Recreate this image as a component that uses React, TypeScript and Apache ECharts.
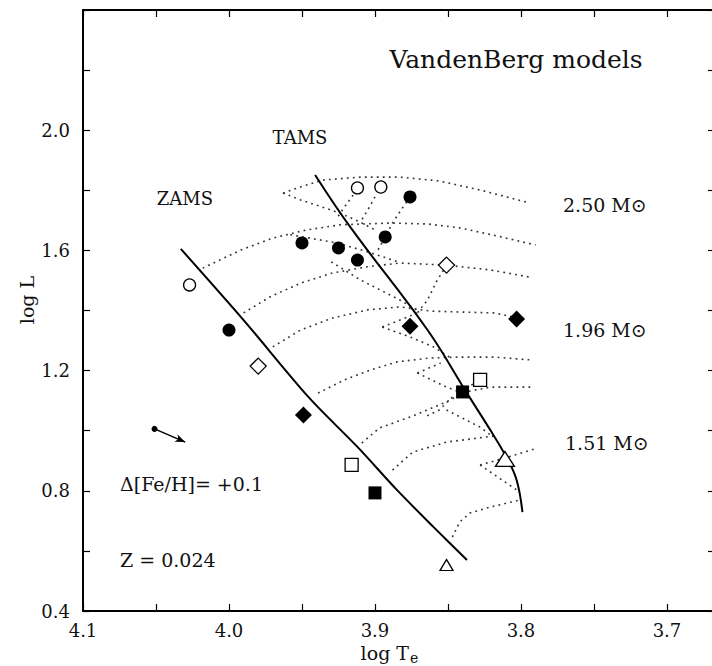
import React, { useEffect, useRef } from "react";
import * as echarts from "echarts";

// Axis ticks / labels
const xTickValues = [4.1, 4.05, 4.0, 3.95, 3.9, 3.85, 3.8, 3.75, 3.7];
const xLabelValues = [4.1, 4.0, 3.9, 3.8, 3.7];
const yTickValues = [0.4, 0.6, 0.8, 1.0, 1.2, 1.4, 1.6, 1.8, 2.0, 2.2, 2.4];
const yLabelValues = [0.4, 0.8, 1.2, 1.6, 2.0];

// Solid boundary lines [logTe, logL]
const zams = [[4.033, 1.605], [3.99, 1.368], [3.945, 1.109], [3.912, 0.946], [3.885, 0.803], [3.86, 0.68], [3.837, 0.57]];
const tams = [[3.941, 1.851], [3.917, 1.678], [3.864, 1.335], [3.837, 1.125], [3.821, 1.002], [3.81, 0.912], [3.803, 0.836], [3.799, 0.729]];

// Dotted evolutionary tracks
const track250 = [[3.963, 1.791], [3.951, 1.811], [3.936, 1.834], [3.91, 1.844], [3.883, 1.844], [3.856, 1.831], [3.828, 1.801], [3.794, 1.758]];
const hook250 = [[3.963, 1.791], [3.951, 1.768], [3.936, 1.744], [3.924, 1.724], [3.91, 1.694], [3.9, 1.668]];
const trackA = [[4.018, 1.541], [3.992, 1.601], [3.97, 1.641], [3.947, 1.668], [3.924, 1.685], [3.89, 1.691], [3.864, 1.688], [3.842, 1.675], [3.819, 1.651], [3.79, 1.618]];
const hookA = [[3.958, 1.652], [3.926, 1.625], [3.905, 1.595], [3.884, 1.562]];
const trackB = [[3.99, 1.392], [3.972, 1.445], [3.951, 1.491], [3.929, 1.525], [3.906, 1.545], [3.883, 1.558], [3.851, 1.551], [3.821, 1.535], [3.794, 1.511]];
const hookB = [[3.93, 1.562], [3.91, 1.502], [3.883, 1.435], [3.869, 1.395]];
const track196 = [[3.97, 1.279], [3.951, 1.335], [3.929, 1.375], [3.905, 1.402], [3.883, 1.412], [3.862, 1.398], [3.842, 1.395], [3.818, 1.392], [3.796, 1.368]];
const trackC = [[3.939, 1.125], [3.921, 1.169], [3.903, 1.202], [3.885, 1.229], [3.862, 1.242], [3.842, 1.245], [3.818, 1.245], [3.792, 1.235]];
const trackD = [[3.909, 0.959], [3.897, 1.009], [3.874, 1.049], [3.851, 1.096], [3.838, 1.129], [3.821, 1.145], [3.792, 1.145]];
const trackE = [[3.888, 0.869], [3.874, 0.929], [3.851, 0.962], [3.819, 0.982]];
const track151 = [[3.828, 0.886], [3.811, 0.909], [3.789, 0.942]];
const hook151 = [[3.828, 0.886], [3.816, 0.846], [3.803, 0.803]];
const trackF = [[3.847, 0.646], [3.842, 0.696], [3.835, 0.726], [3.821, 0.746], [3.801, 0.769]];

// Dotted isochrone-like connectors
const iso1 = [[3.851, 1.551], [3.858, 1.495], [3.864, 1.435], [3.871, 1.392]];
const iso2 = [[3.895, 1.345], [3.883, 1.368], [3.871, 1.392]];
const iso3 = [[3.895, 1.345], [3.876, 1.312], [3.86, 1.279], [3.849, 1.245]];
const iso4 = [[3.876, 1.778], [3.883, 1.728], [3.888, 1.691], [3.893, 1.645], [3.898, 1.601]];
const iso5 = [[3.9, 1.778], [3.905, 1.734], [3.91, 1.694]];
const iso6 = [[3.915, 1.784], [3.921, 1.744], [3.926, 1.708]];
const iso7 = [[3.871, 1.192], [3.851, 1.145], [3.842, 1.129], [3.828, 1.169]];
const iso8 = [[3.871, 1.192], [3.855, 1.225]];
const iso9 = [[3.847, 1.112], [3.856, 1.069], [3.866, 1.045]];
const iso10 = [[3.851, 1.069], [3.828, 1.012], [3.819, 0.979]];

// Observed stars
const openCircles = [[4.027, 1.485], [3.912, 1.808], [3.896, 1.811]];
const filledCircles = [[4.0, 1.335], [3.95, 1.625], [3.925, 1.608], [3.912, 1.568], [3.893, 1.645], [3.876, 1.778]];
const openDiamonds = [[3.98, 1.215], [3.851, 1.551]];
const filledDiamonds = [[3.949, 1.052], [3.876, 1.348], [3.803, 1.372]];
const openSquares = [[3.916, 0.886], [3.828, 1.169]];
const filledSquares = [[3.9, 0.793], [3.84, 1.129]];
const openTriangles = [[3.851, 0.553], [3.811, 0.906]];
const triangleSizes = [[13, 11], [19, 15]];
const metalShift = [[4.051, 1.006], [4.03, 0.962]];

const FONT = "DejaVu Serif";

function dotted(data: number[][]) {
  return {
    type: "line",
    data,
    symbol: "none",
    showSymbol: false,
    silent: true,
    z: 2,
    lineStyle: { color: "#333", width: 1.6, type: [1.8, 4.2] },
  };
}

function solid(data: number[][], extra: any = {}) {
  return {
    type: "line",
    data,
    symbol: "none",
    showSymbol: false,
    silent: true,
    z: 3,
    lineStyle: { color: "#000", width: 2 },
    ...extra,
  };
}

function scatter(data: any[], symbol: string, size: any, filled: boolean) {
  return {
    type: "scatter",
    data,
    symbol,
    symbolSize: size,
    z: 5,
    silent: true,
    itemStyle: filled
      ? { color: "#000", borderColor: "#000", borderWidth: 0, opacity: 1 }
      : { color: "#fff", borderColor: "#000", borderWidth: 1.3, opacity: 1 },
  };
}

export default function App() {
  const ref = useRef<HTMLDivElement>(null);
  useEffect(() => {
    document.body.style.margin = "0";
    document.body.style.overflow = "hidden";
    const chart = echarts.init(ref.current!, null, { renderer: "svg" });
    const xCommon = {
      type: "value",
      inverse: true,
      min: 3.6671,
      max: 4.1,
      splitLine: { show: false },
      axisLine: { show: true, lineStyle: { color: "#000", width: 2 } },
      axisTick: { show: true, inside: true, length: 7, customValues: xTickValues, lineStyle: { color: "#000", width: 1.2 } },
    };
    const yCommon = {
      type: "value",
      min: 0.4,
      max: 2.4,
      interval: 0.2,
      splitLine: { show: false },
      axisLine: { show: true, lineStyle: { color: "#000", width: 2 } },
      axisTick: { show: true, inside: true, length: 7, customValues: yTickValues, lineStyle: { color: "#000", width: 1.2 } },
    };
    const tri = openTriangles.map((p, i) => ({ value: p, symbolSize: triangleSizes[i] }));
    chart.setOption({
      animation: false,
      backgroundColor: "#fff",
      grid: { left: 83, top: 10, bottom: 55, right: -3, outerBoundsMode: "none", containLabel: false },
      xAxis: [
        {
          ...xCommon,
          position: "bottom",
          axisLabel: {
            show: true,
            customValues: xLabelValues,
            formatter: (v: number) => v.toFixed(1),
            fontFamily: FONT,
            fontSize: 18,
            color: "#111",
            margin: 10,
          },
        },
        { ...xCommon, position: "top", axisLabel: { show: false } },
      ],
      yAxis: [
        {
          ...yCommon,
          position: "left",
          axisLabel: {
            show: true,
            customValues: yLabelValues,
            formatter: (v: number) => v.toFixed(1),
            fontFamily: FONT,
            fontSize: 18,
            color: "#111",
            margin: 13,
          },
        },
        { ...yCommon, position: "right", axisLabel: { show: false } },
      ],
      series: [
        ...[track250, hook250, trackA, hookA, trackB, hookB, track196, trackC, trackD, trackE, track151, hook151, trackF,
          iso1, iso2, iso3, iso4, iso5, iso6, iso7, iso8, iso9, iso10].map(dotted),
        solid(zams, {
          smooth: 0.3,
          markLine: {
            silent: true,
            symbol: ["circle", "arrow"],
            symbolSize: [6, 10],
            label: { show: false },
            lineStyle: { color: "#000", width: 1.5, type: "solid" },
            data: [[{ coord: metalShift[0] }, { coord: metalShift[1] }]],
          },
        }),
        solid(tams, { smooth: 0.4 }),
        scatter(openCircles, "circle", 12, false),
        scatter(filledCircles, "circle", 13, true),
        scatter(openDiamonds, "diamond", 16, false),
        scatter(filledDiamonds, "diamond", 17, true),
        scatter(openSquares, "rect", 13, false),
        scatter(filledSquares, "rect", 13, true),
        scatter(tri, "triangle", 13, false),
      ],
      graphic: [
        { type: "text", x: 516, y: 59, style: { text: "VandenBerg models", font: `25px '${FONT}'`, fill: "#111", align: "center", verticalAlign: "middle" } },
        { type: "text", x: 300, y: 137, style: { text: "TAMS", font: `18px '${FONT}'`, fill: "#111", align: "center", verticalAlign: "middle" } },
        { type: "text", x: 185, y: 198, style: { text: "ZAMS", font: `18px '${FONT}'`, fill: "#111", align: "center", verticalAlign: "middle" } },
        { type: "text", x: 563, y: 205, style: { text: "2.50 M⊙", font: `19px '${FONT}'`, fill: "#111", align: "left", verticalAlign: "middle" } },
        { type: "text", x: 563, y: 330, style: { text: "1.96 M⊙", font: `19px '${FONT}'`, fill: "#111", align: "left", verticalAlign: "middle" } },
        { type: "text", x: 565, y: 443, style: { text: "1.51 M⊙", font: `19px '${FONT}'`, fill: "#111", align: "left", verticalAlign: "middle" } },
        { type: "text", x: 120, y: 484, style: { text: "Δ[Fe/H]= +0.1", font: `19px '${FONT}'`, fill: "#111", align: "left", verticalAlign: "middle" } },
        { type: "text", x: 120, y: 560, style: { text: "Z = 0.024", font: `19px '${FONT}'`, fill: "#111", align: "left", verticalAlign: "middle" } },
        { type: "text", x: 409, y: 653, style: { text: "log T", font: `19px '${FONT}'`, fill: "#111", align: "right", verticalAlign: "middle" } },
        { type: "text", x: 410, y: 658, style: { text: "e", font: `14px '${FONT}'`, fill: "#111", align: "left", verticalAlign: "middle" } },
        { type: "text", x: 27, y: 300, rotation: Math.PI / 2, style: { text: "log L", font: `19px '${FONT}'`, fill: "#111", align: "center", verticalAlign: "middle" } },
      ],
    });
    return () => chart.dispose();
  }, []);
  return <div ref={ref} style={{ position: "absolute", left: 0, top: 0, width: 712, height: 666 }} />;
}
